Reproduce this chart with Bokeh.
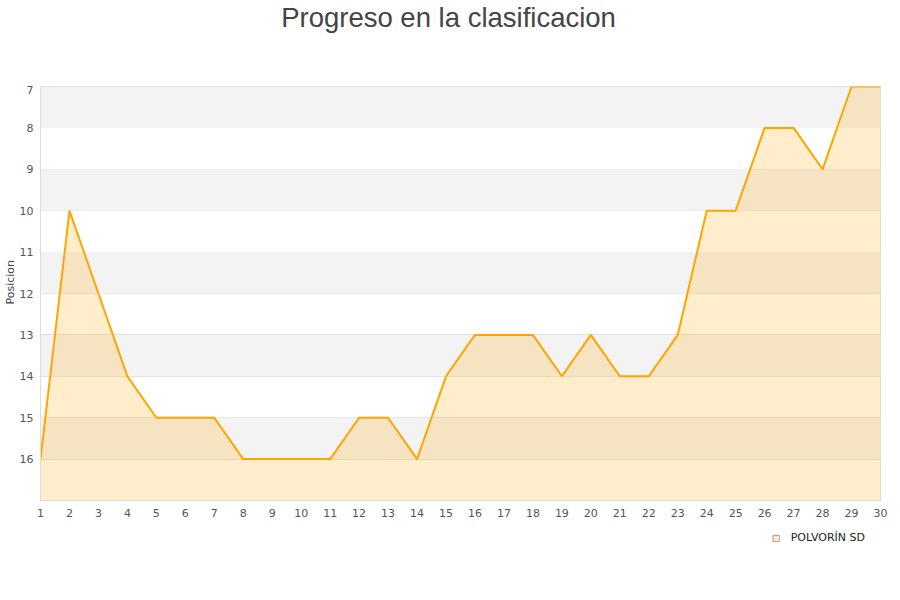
from bokeh.plotting import figure
from bokeh.layouts import column, row
from bokeh.models import Range1d, FixedTicker, BoxAnnotation, Legend, LegendItem, ColumnDataSource, Label
from bokeh.embed import file_html
from bokeh.resources import INLINE

jornadas = list(range(1, 31))
posiciones = [16, 10, 12, 14, 15, 15, 15, 16, 16, 16, 16, 15, 15, 16, 14,
              13, 13, 13, 14, 13, 14, 14, 13, 10, 10, 8, 8, 9, 7, 7]
equipo = "POLVORÍN SD"
titulo = "Progreso en la clasificacion"
eje_y = "Posicion"
y_ticks = list(range(7, 17))
x_ticks = list(range(1, 31))

W = 892
LW = 16

# title strip
tt = figure(width=W, height=85, output_backend="svg", toolbar_location=None,
            x_range=Range1d(0, W), y_range=Range1d(85, 0),
            min_border=0, outline_line_color=None)
tt.axis.visible = False
tt.grid.visible = False
tt.add_layout(Label(x=462, y=17, text=titulo, text_align="center", text_baseline="alphabetic",
                    text_font="Liberation Sans", text_font_size="27.5px", text_color="#444444"))

# y-axis title strip
ls = figure(width=LW, height=440, output_backend="svg", toolbar_location=None,
            x_range=Range1d(0, LW), y_range=Range1d(440, 0),
            min_border=0, outline_line_color=None)
ls.axis.visible = False
ls.grid.visible = False
ls.add_layout(Label(x=10, y=208, text=eje_y, text_align="center", text_baseline="middle",
                    angle=90, angle_units="deg",
                    text_font="DejaVu Sans", text_font_size="11px", text_color="#444444"))

p = figure(width=W - LW, height=440, output_backend="svg", toolbar_location=None,
           x_range=Range1d(1, 30), y_range=Range1d(17, 7),
           min_border_left=20, min_border_right=12, min_border_top=1, min_border_bottom=25)

p.outline_line_color = "#dddddd"
p.background_fill_color = "white"

for lo in range(7, 17, 2):
    p.add_layout(BoxAnnotation(top=lo, bottom=lo + 1, fill_color="#f3f3f3", fill_alpha=1.0, line_alpha=0, level="underlay"))

src = ColumnDataSource(dict(x=jornadas, y=posiciones, base=[17] * len(jornadas)))
p.varea(x="x", y1="y", y2="base", source=src, fill_color="#ffa500", fill_alpha=0.2)
p.line(x="x", y="y", source=src, line_color="#ffa500", line_width=2)

p.xgrid.visible = False
p.ygrid.ticker = FixedTicker(ticks=list(range(7, 18)))
p.ygrid.grid_line_color = "#e0e0e0"

p.xaxis.ticker = FixedTicker(ticks=x_ticks)
p.yaxis.ticker = FixedTicker(ticks=y_ticks)
for ax in (p.xaxis, p.yaxis):
    ax.major_tick_line_color = None
    ax.minor_tick_line_color = None
    ax.major_tick_out = 0
    ax.major_tick_in = 0
    ax.minor_tick_out = 0
    ax.minor_tick_in = 0
    ax.axis_line_color = "#dddddd"
    ax.major_label_text_font = "DejaVu Sans"
    ax.major_label_text_font_size = "11px"
    ax.major_label_text_color = "#555555"
p.xaxis.major_label_standoff = 8
p.yaxis.major_label_standoff = 7

# legend strip
lg = figure(width=W, height=55, output_backend="svg", toolbar_location=None,
            x_range=Range1d(0, 1), y_range=Range1d(0, 1),
            min_border_left=0, min_border_bottom=0, min_border_top=6, min_border_right=27,
            outline_line_color=None)
lg.axis.visible = False
lg.grid.visible = False
dummy = lg.quad(left=[5], right=[6], top=[5], bottom=[6], fill_color="#ffe9c4", line_color="#999999")
legend = Legend(items=[LegendItem(label=equipo, renderers=[dummy])],
                location="top_right", orientation="horizontal",
                border_line_alpha=0, background_fill_alpha=0,
                glyph_width=8, glyph_height=8, label_text_font="DejaVu Sans",
                label_text_font_size="11px", label_text_color="#222222",
                padding=0, margin=0, spacing=6, label_standoff=11)
lg.add_layout(legend)

layout = column(tt, row(ls, p, spacing=0), lg, spacing=0)
open("out.html", "w").write(file_html(layout, INLINE))
